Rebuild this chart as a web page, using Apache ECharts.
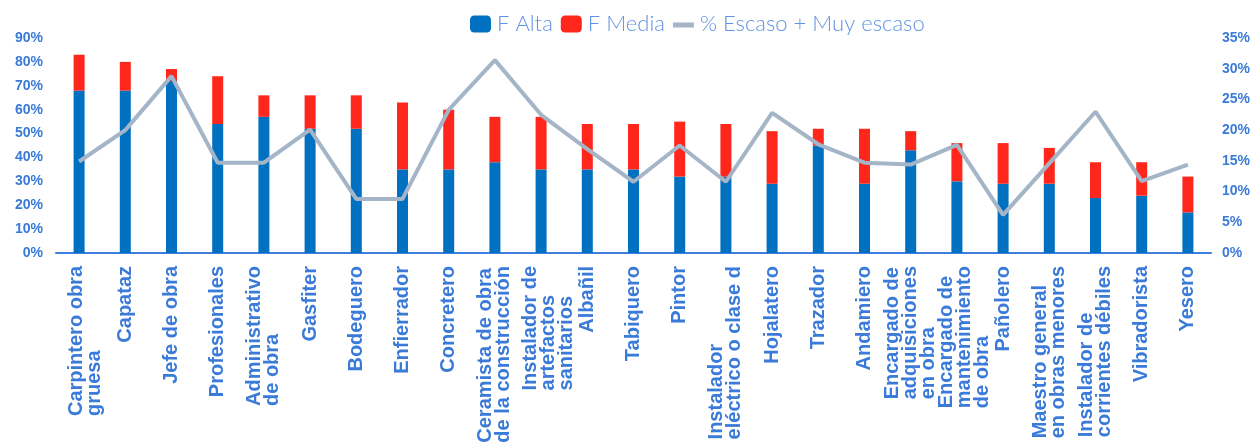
<!DOCTYPE html>
<html>
<head>
<meta charset="utf-8">
<script src="https://cdn.jsdelivr.net/npm/echarts@6/dist/echarts.min.js"></script>
<style>
html,body{margin:0;padding:0;background:#fff;}
#chart{width:1259px;height:446px;}
</style>
</head>
<body>
<div id="chart"></div>
<script>
const categories = [
  "Carpintero obra\ngruesa", "Capataz", "Jefe de obra", "Profesionales",
  "Administrativo\nde obra", "Gasfiter", "Bodeguero", "Enfierrador",
  "Concretero", "Ceramista de obra\nde la construcción",
  "Instalador de\nartefactos\nsanitarios", "Albañil", "Tabiquero", "Pintor",
  "Instalador\neléctrico o clase d", "Hojalatero", "Trazador", "Andamiero",
  "Encargado de\nadquisiciones\nen obra", "Encargado de\nmantenimiento\nde obra",
  "Pañolero", "Maestro general\nen obras menores",
  "Instalador de\ncorrientes débiles", "Vibradorista", "Yesero"
];
const fAlta  = [68, 68, 72, 54, 57, 52, 52, 35, 35, 38, 35, 35, 35, 32, 32, 29, 45, 29, 43, 30, 29, 29, 23, 24, 17];
const fMedia = [15, 12, 5, 20, 9, 14, 14, 28, 25, 19, 22, 19, 19, 23, 22, 22, 7, 23, 8, 16, 17, 15, 15, 14, 15];
const escaso = [14.9, 20.0, 28.8, 14.7, 14.7, 20.1, 8.8, 8.8, 23.3, 31.4, 22.5, 16.9, 11.6, 17.5, 11.6, 22.8, 17.7, 14.7, 14.4, 17.6, 6.2, 14.6, 23.0, 11.7, 14.4];
const leftTicks = { min: 0, max: 90, interval: 10 };
const rightTicks = { min: 0, max: 35, interval: 5 };

// label nudges (style only): extra leading spacer per category index, in px
const labelNudge = { 0: 12, 10: 14, 19: 16 };

const axisBlue = '#3a7ad9';
const lineGrey = '#A5B5C8';
const chart = echarts.init(document.getElementById('chart'), null, { renderer: 'canvas' });
const labelFont = { fontSize: 20, fontWeight: 'bold', fontFamily: 'Liberation Sans', color: axisBlue };
const rich = { l: Object.assign({ align: 'left', lineHeight: 18 }, labelFont) };
Object.keys(labelNudge).forEach(k => {
  rich['s' + k] = { align: 'left', lineHeight: labelNudge[k], fontSize: 1 };
});
chart.setOption({
  backgroundColor: '#ffffff',
  animation: false,
  legend: {
    left: 465, top: 8,
    itemWidth: 21, itemHeight: 17, itemGap: 8,
    textStyle: { color: '#5f91e4', fontSize: 22, fontFamily: 'Lato', fontWeight: 300, padding: [0, 0, 0, 1] },
    data: [
      { name: 'F Alta' },
      { name: 'F Media' },
      { name: '% Escaso + Muy escaso',
        icon: 'path://M0,0L0.01,0ZM0,7H21V12H0ZM0,17L0.01,17Z',
        itemStyle: { color: lineGrey, borderWidth: 0 } }
    ]
  },
  grid: { left: 56, right: 48, top: 38, bottom: 193, containLabel: false },
  xAxis: {
    type: 'category',
    data: categories,
    axisLine: { show: true, lineStyle: { color: '#3f7fdc', width: 2 } },
    axisTick: { show: false },
    axisLabel: {
      interval: 0, rotate: 90, margin: 13,
      formatter: (v, i) => {
        let s = v.split('\n').map(t => '{l|' + t + '}').join('\n');
        if (labelNudge[i]) s = '{s' + i + '| }\n' + s;
        return s;
      },
      rich: rich
    }
  },
  yAxis: [
    {
      type: 'value', min: leftTicks.min, max: leftTicks.max, interval: leftTicks.interval,
      axisLine: { show: false }, axisTick: { show: false }, splitLine: { show: false },
      axisLabel: { formatter: '{value}%', color: axisBlue, fontSize: 14, fontWeight: 'bold', fontFamily: 'Liberation Sans', margin: 13 }
    },
    {
      type: 'value', min: rightTicks.min, max: rightTicks.max, interval: rightTicks.interval,
      axisLine: { show: false }, axisTick: { show: false }, splitLine: { show: false },
      axisLabel: { formatter: '{value}%', color: axisBlue, fontSize: 14, fontWeight: 'bold', fontFamily: 'Liberation Sans', margin: 11 }
    }
  ],
  series: [
    { name: 'F Alta', type: 'bar', stack: 's', data: fAlta, barWidth: 11, itemStyle: { color: '#0070C0' } },
    { name: 'F Media', type: 'bar', stack: 's', data: fMedia, barWidth: 11, itemStyle: { color: '#FF261B' } },
    { name: '% Escaso + Muy escaso', type: 'line', yAxisIndex: 1, data: escaso, symbol: 'none',
      lineStyle: { color: lineGrey, width: 4 }, itemStyle: { color: lineGrey }, z: 5 }
  ]
});
</script>
</body>
</html>
